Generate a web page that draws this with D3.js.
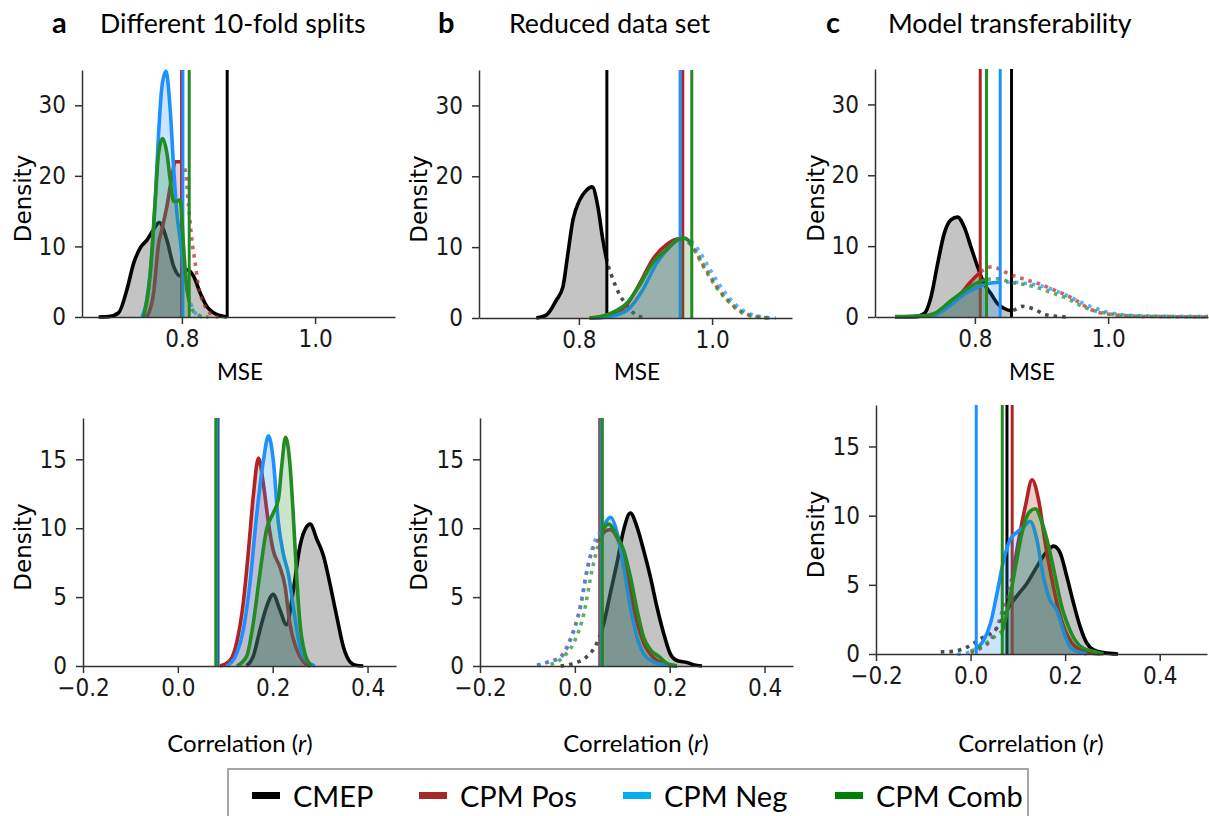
<!DOCTYPE html>
<html>
<head>
<meta charset="utf-8">
<script src="https://cdn.jsdelivr.net/npm/d3@7"></script>
<style>
  body { margin: 0; background: #fff; }
  svg { display: block; }
  .tick text { font-family: "DejaVu Sans Condensed", "DejaVu Sans", sans-serif; font-size: 24px; fill: #1a1a1a; }
  .tick line, .domain { stroke: #333; stroke-width: 1.5px; }
  .lbl { font-family: Lato, "Open Sans", sans-serif; fill: #000; }
</style>
</head>
<body>
<svg id="chart" width="1209" height="816"></svg>
<script>
const seriesNames = ['CMEP', 'CPM Pos', 'CPM Neg', 'CPM Comb'];
const lineColors = ['#000000', '#b22222', '#1e90ff', '#228b22'];
const legendColors = ['#000000', '#a52a2a', '#00b0f0', '#008000'];

const panelLetters = ['a', 'b', 'c'];
const panelTitles = ['Different 10-fold splits', 'Reduced data set', 'Model transferability'];

const mseTicks = [0.8, 1.0];
const corrTicks = [-0.2, 0.0, 0.2, 0.4];
const mseDensityTicks = [0, 10, 20, 30];
const corrDensityTicks = [0, 5, 10, 15];

// ---- a: MSE, different 10-fold splits  [value, density]
const aMseCMEP = [[0.675,0],[0.69,0.05],[0.705,0.6],[0.7175,3.9],[0.7275,7.6],[0.7375,9.8],[0.7475,10.9],[0.7575,12.4],[0.766,13.4],[0.7775,10.9],[0.7875,7.2],[0.7975,5.8],[0.8075,6.7],[0.8175,5.8],[0.8275,3.4],[0.8375,1.5],[0.8475,0.6],[0.8575,0.2],[0.8675,0]];
const aMsePos = [[0.7475,0],[0.7575,3.4],[0.765,10.4],[0.77,12.4],[0.7775,15.7],[0.785,19.9],[0.79,22],[0.7975,22],[0.805,20.8],[0.81,15.7],[0.815,10.9],[0.82,7.6],[0.825,4.3],[0.8325,2],[0.84,0.8],[0.8475,0.2],[0.855,0]];
const aMseNeg = [[0.74,0],[0.7475,2.5],[0.755,9],[0.76,16.6],[0.765,26],[0.77,32.6],[0.776,34.8],[0.7825,29.3],[0.7875,21.3],[0.7925,14.7],[0.7975,10.9],[0.8015,7.6],[0.8075,3.9],[0.815,1.5],[0.8225,0.3],[0.83,0]];
const aMseComb = [[0.7425,0],[0.7525,6.2],[0.76,16.6],[0.765,23.2],[0.771,25.3],[0.7775,23.2],[0.7825,19.4],[0.7875,16.4],[0.7925,16.4],[0.7975,16.6],[0.8025,10],[0.8075,4],[0.815,1.2],[0.8225,0.4],[0.83,0.1],[0.84,0]];
const aMseThr = [0.868, 0.7995, 0.8015, 0.811];

// ---- b: MSE, reduced data set
const bMseCMEP = [[0.736,0],[0.751,0.4],[0.766,2.5],[0.776,4.4],[0.7835,9.1],[0.791,13.8],[0.801,16.6],[0.811,18],[0.82,18.5],[0.8285,15.7],[0.836,11],[0.842,8.1],[0.851,5.5],[0.861,3.3],[0.871,1.9],[0.881,0.8],[0.8985,0]];
const bMsePos = [[0.816,0],[0.836,0.1],[0.851,0.5],[0.871,1.8],[0.891,4.8],[0.911,8.3],[0.931,10.3],[0.946,11.1],[0.956,11.2],[0.966,10.5],[0.976,9.3],[0.986,7.6],[0.996,6.1],[1.006,4.6],[1.016,3.3],[1.026,2.3],[1.036,1.4],[1.051,0.6],[1.071,0.15],[1.091,0]];
const bMseNeg = [[0.82,0],[0.84,0.1],[0.856,0.4],[0.876,1.4],[0.896,4.0],[0.916,7.6],[0.936,10],[0.951,11.1],[0.961,11.2],[0.971,10.6],[0.981,9.4],[0.991,7.8],[1.001,6.2],[1.011,4.7],[1.021,3.4],[1.031,2.3],[1.041,1.4],[1.056,0.6],[1.076,0.15],[1.096,0]];
const bMseComb = [[0.816,0],[0.836,0.3],[0.851,0.8],[0.871,2.0],[0.891,4.6],[0.911,7.8],[0.931,9.6],[0.946,10.9],[0.958,11.3],[0.966,10.8],[0.976,9.2],[0.986,7.4],[0.996,5.8],[1.006,4.4],[1.016,3.2],[1.026,2.2],[1.036,1.3],[1.051,0.5],[1.071,0.1],[1.091,0]];
const bMseThr = [0.842, 0.956, 0.952, 0.9695];

// ---- c: MSE, model transferability
const cMseCMEP = [[0.68,0],[0.71,0.05],[0.724,0.5],[0.734,2.8],[0.744,7.5],[0.754,11.8],[0.764,13.7],[0.774,14.1],[0.784,12.7],[0.794,9.9],[0.804,7.1],[0.814,4.7],[0.824,3.3],[0.834,1.9],[0.844,1.2],[0.855,0.9],[0.8715,1.5],[0.889,1.1],[0.904,0.4],[0.9215,0.1],[0.94,0]];
const cMsePos = [[0.68,0.02],[0.72,0.1],[0.739,0.3],[0.764,1.9],[0.779,3.3],[0.794,5.0],[0.808,6.3],[0.8265,7.1],[0.844,6.4],[0.859,5.8],[0.879,5.2],[0.899,4.6],[0.919,3.8],[0.939,3.0],[0.954,2.2],[0.969,1.3],[0.984,0.7],[1.004,0.35],[1.024,0.2],[1.044,0.1],[1.09,0.05],[1.15,0]];
const cMseNeg = [[0.68,0.02],[0.72,0.1],[0.739,0.3],[0.764,1.7],[0.784,3.2],[0.804,4.2],[0.824,4.8],[0.838,4.9],[0.859,4.9],[0.879,4.7],[0.899,4.4],[0.919,3.8],[0.939,3.0],[0.959,2.1],[0.979,1.3],[0.999,0.7],[1.019,0.35],[1.039,0.2],[1.08,0.1],[1.15,0.05]];
const cMseComb = [[0.68,0.05],[0.72,0.1],[0.739,0.5],[0.764,2.3],[0.784,3.7],[0.799,4.6],[0.8175,5.3],[0.834,5.4],[0.854,4.9],[0.879,4.5],[0.899,4.0],[0.919,3.3],[0.939,2.6],[0.959,1.6],[0.979,0.9],[0.999,0.5],[1.019,0.25],[1.064,0.1],[1.15,0.05]];
const cMseThr = [0.855, 0.808, 0.838, 0.8175];

// ---- a: correlation
const aCorCMEP = [[0.145,0],[0.159,0.7],[0.173,2.6],[0.187,4.3],[0.201,5.2],[0.215,4.1],[0.229,3.0],[0.2435,5.5],[0.2575,8.7],[0.2715,10.1],[0.279,10.3],[0.293,9.2],[0.307,8.0],[0.3205,6.0],[0.335,3.6],[0.349,1.4],[0.363,0.3],[0.375,0.05],[0.391,0]];
const aCorPos = [[0.089,0],[0.11,0.4],[0.124,1.7],[0.138,4.6],[0.149,8.4],[0.159,12.3],[0.17,15.1],[0.18,13.3],[0.191,10.4],[0.201,8.4],[0.215,7.2],[0.226,5.8],[0.236,3.1],[0.2505,1.2],[0.2645,0.3],[0.279,0]];
const aCorNeg = [[0.103,0],[0.124,0.9],[0.138,2.6],[0.152,6.0],[0.166,10.9],[0.18,14.8],[0.191,16.7],[0.201,15.0],[0.212,10.4],[0.222,8.2],[0.233,6.7],[0.2435,4.3],[0.2575,1.4],[0.2715,0.4],[0.289,0]];
const aCorComb = [[0.124,0],[0.145,0.7],[0.159,3.1],[0.173,6.7],[0.187,9.9],[0.201,11.1],[0.212,12.1],[0.219,14.5],[0.227,16.6],[0.236,14.8],[0.2435,10.9],[0.2505,6.5],[0.2575,3.1],[0.268,0.9],[0.282,0]];
const aCorThr = [0.0845, 0.0815, 0.083, 0.080];

// ---- b: correlation
const bCorCMEP = [[-0.03,0],[-0.002,0.2],[0.026,0.7],[0.047,1.7],[0.061,3.1],[0.075,5.3],[0.089,7.5],[0.103,9.9],[0.117,11.1],[0.131,10.1],[0.145,8.4],[0.159,6.5],[0.173,4.3],[0.187,2.4],[0.201,0.9],[0.215,0.4],[0.2365,0.25],[0.25,0.1],[0.268,0]];
const bCorPos = [[-0.08,0.05],[-0.055,0.3],[-0.03,0.7],[-0.009,2.0],[0.012,4.4],[0.026,7.0],[0.04,8.7],[0.053,9.3],[0.0645,9.8],[0.075,9.9],[0.089,9.3],[0.103,7.8],[0.117,5.4],[0.131,3.2],[0.145,1.7],[0.166,0.6],[0.187,0.2],[0.215,0]];
const bCorNeg = [[-0.079,0.05],[-0.055,0.3],[-0.03,0.6],[-0.009,1.9],[0.012,4.3],[0.026,7.0],[0.04,8.9],[0.053,9.7],[0.0645,10.4],[0.075,10.8],[0.089,9.7],[0.103,7.2],[0.117,4.3],[0.131,2.1],[0.145,0.9],[0.166,0.3],[0.187,0.1],[0.215,0]];
const bCorComb = [[-0.051,0.1],[-0.023,0.7],[-0.002,1.7],[0.019,3.8],[0.0365,7.0],[0.0505,8.9],[0.061,10.0],[0.0716,10.3],[0.089,9.4],[0.103,8.4],[0.117,6.5],[0.131,4.1],[0.145,2.1],[0.159,1.2],[0.177,0.7],[0.194,0.2],[0.215,0]];
const bCorThr = [0.057, 0.0525, 0.055, 0.0575];

// ---- c: correlation
const cCorCMEP = [[-0.063,0.15],[-0.035,0.2],[-0.007,0.5],[0.021,1.1],[0.056,1.9],[0.077,3.2],[0.098,4.2],[0.119,5.1],[0.14,6.3],[0.161,7.4],[0.1755,7.8],[0.1895,7.3],[0.2035,5.6],[0.2175,3.7],[0.2315,2.0],[0.2455,0.8],[0.26,0.3],[0.281,0.1],[0.312,0]];
const cCorPos = [[0.0,0.1],[0.021,0.4],[0.042,1.0],[0.056,2.0],[0.07,3.4],[0.081,4.6],[0.088,5.6],[0.102,8.3],[0.116,10.7],[0.13,12.6],[0.144,11.1],[0.158,8.0],[0.172,5.4],[0.186,3.2],[0.2,1.7],[0.214,0.8],[0.2315,0.3],[0.2525,0.1],[0.275,0]];
const cCorNeg = [[-0.028,0],[-0.007,0.1],[0.012,0.4],[0.028,1.0],[0.042,2.2],[0.056,4.4],[0.07,6.8],[0.084,8.3],[0.098,8.8],[0.112,9.2],[0.126,9.6],[0.14,8.3],[0.154,5.6],[0.168,3.9],[0.182,3.2],[0.196,1.7],[0.2105,0.5],[0.2245,0.2],[0.2455,0]];
const cCorComb = [[0.0,0.2],[0.021,0.5],[0.042,1.0],[0.056,1.4],[0.067,1.7],[0.081,3.7],[0.095,6.3],[0.109,8.8],[0.123,10.2],[0.137,10.5],[0.151,9.5],[0.165,7.8],[0.179,5.6],[0.193,3.4],[0.207,2.0],[0.221,1.0],[0.239,0.4],[0.26,0.2],[0.281,0]];
const cCorThr = [0.077, 0.088, 0.012, 0.067];

// layout of the six axes (pixels)
const panels = [
  { series: [aMseCMEP, aMsePos, aMseNeg, aMseComb], thr: aMseThr, kind: 'mse', xDomain: [0.65, 1.12], yMax: 35,
    left: 82, right: 395, top: 70, bottom: 317, xTicks: mseTicks, yTicks: mseDensityTicks, densX: 23, labelX: 240 },
  { series: [bMseCMEP, bMsePos, bMseNeg, bMseComb], thr: bMseThr, kind: 'mse', xDomain: [0.65, 1.12], yMax: 35,
    left: 479, right: 792, top: 70, bottom: 318, xTicks: mseTicks, yTicks: mseDensityTicks, densX: 419, labelX: 637 },
  { series: [cMseCMEP, cMsePos, cMseNeg, cMseComb], thr: cMseThr, kind: 'mse', xDomain: [0.65, 1.15], yMax: 35,
    left: 875, right: 1208, top: 69, bottom: 317, xTicks: mseTicks, yTicks: mseDensityTicks, densX: 816, labelX: 1032 },
  { series: [aCorCMEP, aCorPos, aCorNeg, aCorComb], thr: aCorThr, kind: 'corr', xDomain: [-0.2, 0.46], yMax: 18,
    left: 83, right: 396, top: 418, bottom: 666, xTicks: corrTicks, yTicks: corrDensityTicks, densX: 23, labelX: 240 },
  { series: [bCorCMEP, bCorPos, bCorNeg, bCorComb], thr: bCorThr, kind: 'corr', xDomain: [-0.2, 0.46], yMax: 18,
    left: 480, right: 793, top: 418, bottom: 666, xTicks: corrTicks, yTicks: corrDensityTicks, densX: 419, labelX: 636 },
  { series: [cCorCMEP, cCorPos, cCorNeg, cCorComb], thr: cCorThr, kind: 'corr', xDomain: [-0.2, 0.5], yMax: 18,
    left: 876, right: 1207, top: 405, bottom: 654, xTicks: corrTicks, yTicks: corrDensityTicks, densX: 816, labelX: 1031 }
];

const svg = d3.select('#chart');
const defs = svg.append('defs');

panels.forEach((p, pi) => {
  const x = d3.scaleLinear().domain(p.xDomain).range([p.left, p.right]);
  const y = d3.scaleLinear().domain([0, p.yMax]).range([p.bottom, p.top]);
  const g = svg.append('g');

  const line = d3.line().x(d => x(d[0])).y(d => y(d[1])).curve(d3.curveMonotoneX);
  const area = d3.area().x(d => x(d[0])).y0(y(0)).y1(d => y(d[1])).curve(d3.curveMonotoneX);

  p.series.forEach((pts, i) => {
    const t = x(p.thr[i]);
    // solid part: below threshold for MSE, above threshold for r
    const solid = p.kind === 'mse' ? [p.left - 20, t] : [t, p.right + 20];
    const dotted = p.kind === 'mse' ? [t, p.right + 20] : [p.left - 20, t];
    const sid = `clip-s-${pi}-${i}`, did = `clip-d-${pi}-${i}`;
    defs.append('clipPath').attr('id', sid).append('rect')
      .attr('x', solid[0]).attr('width', solid[1] - solid[0])
      .attr('y', p.top - 20).attr('height', p.bottom - p.top + 30);
    defs.append('clipPath').attr('id', did).append('rect')
      .attr('x', dotted[0]).attr('width', dotted[1] - dotted[0])
      .attr('y', p.top - 20).attr('height', p.bottom - p.top + 30);

    g.append('path').datum(pts)
      .attr('clip-path', `url(#${sid})`)
      .attr('d', area)
      .attr('fill', lineColors[i])
      .attr('fill-opacity', 0.23);
    g.append('path').datum(pts)
      .attr('clip-path', `url(#${sid})`)
      .attr('d', line)
      .attr('fill', 'none')
      .attr('stroke', lineColors[i])
      .attr('stroke-width', 3.6)
      .attr('stroke-linejoin', 'round');
    g.append('path').datum(pts)
      .attr('clip-path', `url(#${did})`)
      .attr('d', line)
      .attr('fill', 'none')
      .attr('stroke', lineColors[i])
      .attr('stroke-opacity', 0.7)
      .attr('stroke-width', 3.6)
      .attr('stroke-dasharray', '3.6 5');
    g.append('line')
      .attr('x1', t).attr('x2', t)
      .attr('y1', y(0)).attr('y2', y(p.yMax))
      .attr('stroke', lineColors[i])
      .attr('stroke-width', 3);
  });

  g.append('g')
    .attr('transform', `translate(0,${p.bottom})`)
    .call(d3.axisBottom(x).tickValues(p.xTicks).tickFormat(d3.format('.1f'))
      .tickSize(7).tickSizeOuter(0).tickPadding(6));
  g.append('g')
    .attr('transform', `translate(${p.left},0)`)
    .call(d3.axisLeft(y).tickValues(p.yTicks).tickFormat(d3.format('d'))
      .tickSize(7).tickSizeOuter(0).tickPadding(9));

  g.append('text')
    .attr('transform', `translate(${p.densX},${(p.top + p.bottom) / 2 + 5}) rotate(-90)`)
    .attr('text-anchor', 'middle')
    .attr('dominant-baseline', 'central')
    .style('font-family', '"DejaVu Sans", sans-serif')
    .style('font-size', '23px')
    .text('Density');

  if (p.kind === 'mse') {
    g.append('text').attr('class', 'lbl')
      .attr('x', p.labelX).attr('y', 380)
      .attr('text-anchor', 'middle')
      .style('font-size', '22.5px')
      .text('MSE');
  } else {
    const lab = g.append('text').attr('class', 'lbl')
      .attr('x', p.labelX).attr('y', 752)
      .attr('text-anchor', 'middle')
      .style('font-size', '24px');
    lab.append('tspan').text('Correlation (');
    lab.append('tspan').style('font-style', 'italic').text('r');
    lab.append('tspan').text(')');
  }
});

// panel letters and titles
const letterX = [52, 438, 826];
const titleX = [100, 509, 888];
panelTitles.forEach((t, i) => {
  svg.append('text').attr('class', 'lbl')
    .attr('x', letterX[i]).attr('y', 33)
    .style('font-size', '29px').style('font-weight', 'bold')
    .text(panelLetters[i]);
  svg.append('text').attr('class', 'lbl')
    .attr('x', titleX[i]).attr('y', 33)
    .style('font-size', '26.7px')
    .text(t);
});

// legend
const legend = svg.append('g');
legend.append('rect')
  .attr('x', 228).attr('y', 769).attr('width', 800).attr('height', 60)
  .attr('fill', 'none').attr('stroke', '#a6a6a6').attr('stroke-width', 2);
const swatchX = [252, 419, 623, 835];
seriesNames.forEach((name, i) => {
  legend.append('rect')
    .attr('x', swatchX[i]).attr('y', 792).attr('width', 28).attr('height', 7)
    .attr('fill', legendColors[i]);
  legend.append('text').attr('class', 'lbl')
    .attr('x', swatchX[i] + 41).attr('y', 807)
    .style('font-size', '29px')
    .text(name);
});
</script>
</body>
</html>
